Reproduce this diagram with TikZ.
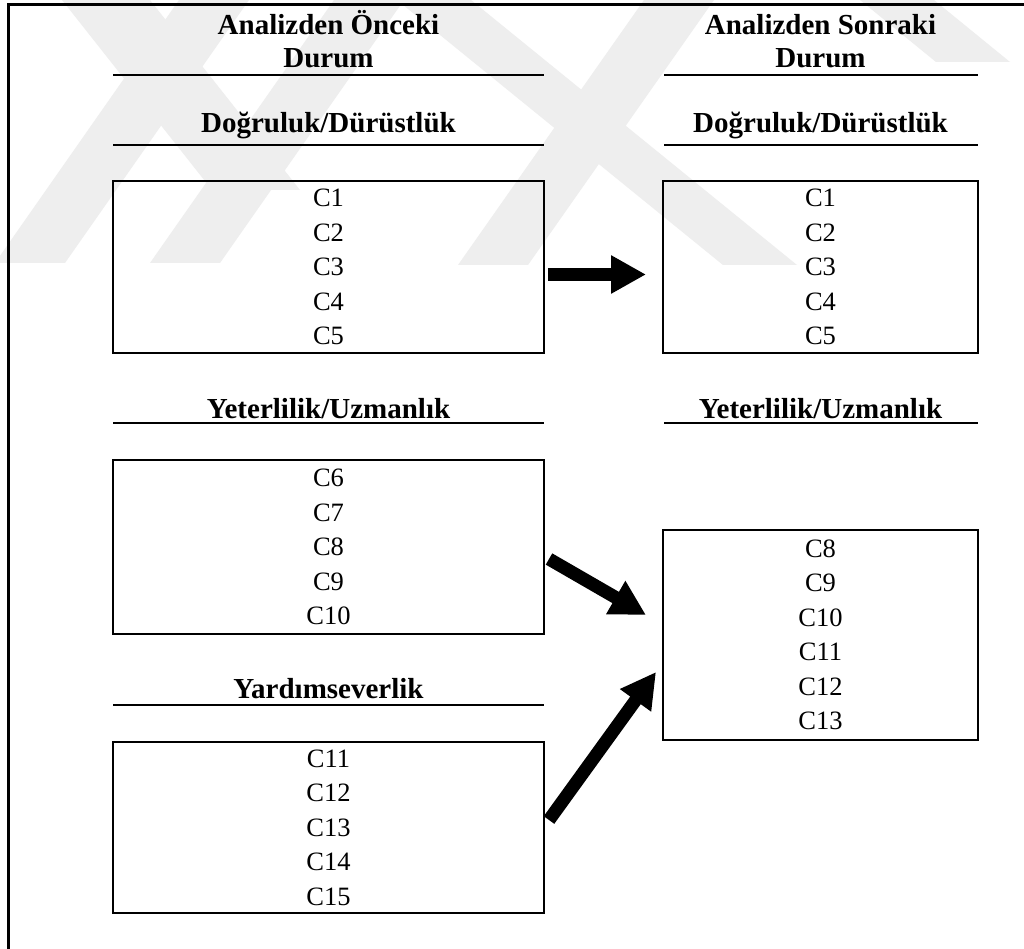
\documentclass[tikz,border=0pt]{standalone}
\usepackage{fontspec}
\setmainfont{Liberation Serif}
\usetikzlibrary{arrows.meta}
\definecolor{wm}{HTML}{EEEEEE}
\tikzset{
  ttl/.style={font=\fontsize{29}{33}\selectfont\bfseries, anchor=base, inner sep=0pt, align=center},
  rule/.style={line width=2.2pt},
  itembox/.style={draw, line width=2pt, inner sep=0pt, align=center,
    font=\fontsize{26.5}{34.5}\selectfont},
  blk/.style={line width=13pt, -{Triangle[length=35pt,width=36pt]}},
  frameline/.style={line width=3pt},
  band/.style={fill=wm, draw=none}
}
\begin{document}
\begin{tikzpicture}[x=1pt,y=-1pt]
\useasboundingbox (0,0) rectangle (1024,949);
\fill[white] (0,0) rectangle (1024,949);
% faint background watermark
\fill[band] (179,0) -- (249,0) -- (65,263) -- (-5,263) -- cycle;
\fill[band] (334,0) -- (404,0) -- (220,263) -- (150,263) -- cycle;
\fill[band] (62,0) -- (150,0) -- (300,190) -- (212,190) -- cycle;
\fill[band] (397,0) -- (471,0) -- (797,265) -- (723,265) -- cycle;
\fill[band] (644,0) -- (714,0) -- (528,265) -- (458,265) -- cycle;
\fill[band] (860,0) -- (934,0) -- (1010,62) -- (936,62) -- cycle;
% frame
\draw[frameline] (8,949) -- (8,5) -- (1024,5);
% titles left
\node[ttl] (tl1) at (328.5,35) {Analizden Önceki};
\node[ttl] (tl2) at (328.5,68) {Durum};
\draw[rule] (113,75) -- (544,75);
\node[ttl] (hl1) at (328.5,133) {Doğruluk/Dürüstlük};
\draw[rule] (113,145) -- (544,145);
\node[ttl] (hl2) at (328.5,418) {Yeterlilik/Uzmanlık};
\draw[rule] (113,423) -- (544,423);
\node[ttl] (hl3) at (328.5,698) {Yardımseverlik};
\draw[rule] (113,705) -- (544,705);
% titles right
\node[ttl] (tr1) at (820.5,35) {Analizden Sonraki};
\node[ttl] (tr2) at (820.5,68) {Durum};
\draw[rule] (664,75) -- (978,75);
\node[ttl] (hr1) at (820.5,133) {Doğruluk/Dürüstlük};
\draw[rule] (664,145) -- (978,145);
\node[ttl] (hr2) at (820.5,418) {Yeterlilik/Uzmanlık};
\draw[rule] (664,423) -- (978,423);
% boxes
\node[itembox, minimum width=431pt, minimum height=172pt] (l1) at (328.5,267) {C1\\C2\\C3\\C4\\C5};
\node[itembox, minimum width=315pt, minimum height=172pt] (r1) at (820.5,267) {C1\\C2\\C3\\C4\\C5};
\node[itembox, minimum width=431pt, minimum height=174pt] (l2) at (328.5,547) {C6\\C7\\C8\\C9\\C10};
\node[itembox, minimum width=431pt, minimum height=171pt] (l3) at (328.5,827.5) {C11\\C12\\C13\\C14\\C15};
\node[itembox, minimum width=315pt, minimum height=210pt] (r2) at (820.5,635) {C8\\C9\\C10\\C11\\C12\\C13};
% arrows
\draw[blk] ([xshift=3pt,yshift=-7.5pt]l1.east) -- ([xshift=-16pt,yshift=-7.5pt]r1.west);
\draw[blk] ([xshift=4pt,yshift=-12pt]l2.east) -- ([xshift=-16pt,yshift=20pt]r2.west);
\draw[blk] ([xshift=4pt,yshift=7.5pt]l3.east) -- ([xshift=-6pt,yshift=-37pt]r2.west);
\end{tikzpicture}
\end{document}
